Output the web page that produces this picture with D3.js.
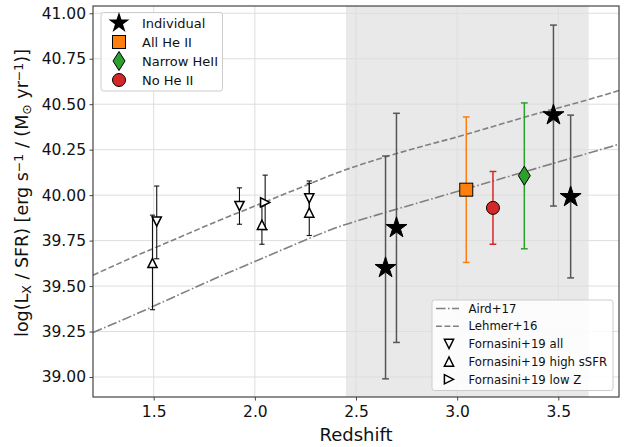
<!DOCTYPE html>
<html>
<head>
<meta charset="utf-8">
<script src="https://cdn.jsdelivr.net/npm/d3@7"></script>
<style>
  body { margin: 0; background: #fff; }
  svg { display: block; font-family: "DejaVu Sans", sans-serif; }
</style>
</head>
<body>
<svg id="chart" width="628" height="447"></svg>
<script>
// ---- data ----
const xTicks = [1.5, 2.0, 2.5, 3.0, 3.5];
const yTicks = [39.0, 39.25, 39.5, 39.75, 40.0, 40.25, 40.5, 40.75, 41.0];

// individual objects (stars)
const indivZ = [2.646, 2.70, 3.476, 3.561];
const indivY = [39.60, 39.82, 40.44, 39.99];
const indivLo = [38.99, 39.19, 39.94, 39.545];
const indivHi = [40.215, 40.45, 40.935, 40.44];

// stacks
const stackNames = ["All He II", "No He II", "Narrow HeII"];
const stackZ = [3.045, 3.177, 3.332];
const stackY = [40.03, 39.93, 40.107];
const stackLo = [39.63, 39.73, 39.705];
const stackHi = [40.43, 40.13, 40.507];

// Fornasini+19
const fAllZ = [1.515, 1.924, 2.269];
const fAllY = [39.855, 39.94, 39.983];
const fAllLo = [39.65, 39.84, 39.89];
const fAllHi = [40.05, 40.04, 40.078];

const fHighZ = [1.494, 2.035, 2.269];
const fHighY = [39.627, 39.837, 39.904];
const fHighLo = [39.37, 39.73, 39.778];
const fHighHi = [39.89, 39.94, 40.065];

const fLowZZ = [2.051];
const fLowZY = [39.96];
const fLowZLo = [39.81];
const fLowZHi = [40.11];

// scaling relations
const relZ = [1.2, 1.4, 1.6, 1.8, 2.0, 2.2, 2.4, 2.6, 2.8, 3.0, 3.2, 3.4, 3.6, 3.8];
const aird17 = [39.245, 39.34, 39.44, 39.54, 39.635, 39.73, 39.82, 39.89, 39.955, 40.02, 40.085, 40.15, 40.215, 40.28];
const lehmer16 = [39.56, 39.66, 39.755, 39.85, 39.94, 40.03, 40.12, 40.195, 40.26, 40.32, 40.385, 40.45, 40.51, 40.575];

// shaded redshift window
const shadeRange = [2.45, 3.65];

// ---- layout ----
const plotL = 93, plotR = 619, plotT = 6, plotB = 397;
const svg = d3.select("#chart");

const x = d3.scaleLinear().domain([1.2, 3.8]).range([plotL, plotR]);
const y = d3.scaleLinear().domain([38.89, 41.04]).range([plotB, plotT]);

const gridColor = "#dedede";
const lineGray = "#808080";

// shaded band
svg.append("rect")
  .attr("x", x(shadeRange[0])).attr("y", plotT)
  .attr("width", x(shadeRange[1]) - x(shadeRange[0]))
  .attr("height", plotB - plotT)
  .attr("fill", "#e9e9e9");

// grid
svg.append("g").selectAll("line").data(xTicks).join("line")
  .attr("x1", d => x(d)).attr("x2", d => x(d))
  .attr("y1", plotT).attr("y2", plotB)
  .attr("stroke", gridColor).attr("stroke-width", 1);
svg.append("g").selectAll("line").data(yTicks).join("line")
  .attr("x1", plotL).attr("x2", plotR)
  .attr("y1", d => y(d)).attr("y2", d => y(d))
  .attr("stroke", gridColor).attr("stroke-width", 1);

// relations
const line = d3.line().x(d => x(d[0])).y(d => y(d[1])).curve(d3.curveMonotoneX);
svg.append("path")
  .datum(relZ.map((z, i) => [z, aird17[i]]))
  .attr("d", line).attr("fill", "none")
  .attr("stroke", lineGray).attr("stroke-width", 1.6)
  .attr("stroke-dasharray", "9.6,2.4,1.6,2.4");
svg.append("path")
  .datum(relZ.map((z, i) => [z, lehmer16[i]]))
  .attr("d", line).attr("fill", "none")
  .attr("stroke", lineGray).attr("stroke-width", 1.6)
  .attr("stroke-dasharray", "5.9,2.6");

// marker paths
function starPath(r) {
  const pts = [];
  const ri = r * 0.382;
  for (let i = 0; i < 10; i++) {
    const a = -Math.PI / 2 + i * Math.PI / 5;
    const rr = i % 2 === 0 ? r : ri;
    pts.push([rr * Math.cos(a), rr * Math.sin(a)]);
  }
  return "M" + pts.map(p => p.join(",")).join("L") + "Z";
}
function triPath(s, dir) {
  // dir: "down", "up", "right"
  let pts;
  if (dir === "down") pts = [[0, s], [-s, -s], [s, -s]];
  else if (dir === "up") pts = [[0, -s], [-s, s], [s, s]];
  else pts = [[s, 0], [-s, -s], [-s, s]];
  return "M" + pts.map(p => p.join(",")).join("L") + "Z";
}
const diamondPath = (w, h) => `M0,${-h}L${w},0L0,${h}L${-w},0Z`;

// error bars
function errorbars(zs, lo, hi, color, width, cap) {
  const g = svg.append("g").attr("stroke", color).attr("stroke-width", width);
  zs.forEach((z, i) => {
    g.append("line").attr("x1", x(z)).attr("x2", x(z)).attr("y1", y(lo[i])).attr("y2", y(hi[i]));
    [lo[i], hi[i]].forEach(v => {
      g.append("line").attr("x1", x(z) - cap).attr("x2", x(z) + cap).attr("y1", y(v)).attr("y2", y(v));
    });
  });
}

errorbars(fAllZ, fAllLo, fAllHi, "#111", 1.1, 2.6);
errorbars(fHighZ, fHighLo, fHighHi, "#111", 1.1, 2.6);
errorbars(fLowZZ, fLowZLo, fLowZHi, "#111", 1.1, 2.6);
errorbars(indivZ, indivLo, indivHi, "#555", 1.5, 3.4);
errorbars([stackZ[0]], [stackLo[0]], [stackHi[0]], "#ff7f0e", 1.5, 3.4);
errorbars([stackZ[1]], [stackLo[1]], [stackHi[1]], "#d62728", 1.5, 3.4);
errorbars([stackZ[2]], [stackLo[2]], [stackHi[2]], "#2ca02c", 1.5, 3.4);

// markers
function tris(zs, ys, dir) {
  svg.append("g").selectAll("path").data(zs).join("path")
    .attr("transform", (d, i) => `translate(${x(d)},${y(ys[i])})`)
    .attr("d", triPath(4.6, dir))
    .attr("fill", "#fff").attr("stroke", "#000").attr("stroke-width", 1.5)
    .attr("stroke-linejoin", "miter");
}
tris(fAllZ, fAllY, "down");
tris(fHighZ, fHighY, "up");
tris(fLowZZ, fLowZY, "right");

svg.append("g").selectAll("path").data(indivZ).join("path")
  .attr("transform", (d, i) => `translate(${x(d)},${y(indivY[i])})`)
  .attr("d", starPath(11))
  .attr("fill", "#000").attr("stroke", "#000").attr("stroke-width", 1);

svg.append("rect")
  .attr("x", x(stackZ[0]) - 6.5).attr("y", y(stackY[0]) - 6.5)
  .attr("width", 13).attr("height", 13)
  .attr("fill", "#ff7f0e").attr("stroke", "#000").attr("stroke-width", 1);
svg.append("circle")
  .attr("cx", x(stackZ[1])).attr("cy", y(stackY[1])).attr("r", 6.5)
  .attr("fill", "#d62728").attr("stroke", "#000").attr("stroke-width", 1);
svg.append("path")
  .attr("transform", `translate(${x(stackZ[2])},${y(stackY[2])})`)
  .attr("d", diamondPath(6, 9.5))
  .attr("fill", "#2ca02c").attr("stroke", "#000").attr("stroke-width", 1);

// axes frame and ticks
svg.append("rect")
  .attr("x", plotL).attr("y", plotT).attr("width", plotR - plotL).attr("height", plotB - plotT)
  .attr("fill", "none").attr("stroke", "#444").attr("stroke-width", 1.2);

const xAxis = svg.append("g").attr("transform", `translate(0,${plotB})`)
  .call(d3.axisBottom(x).tickValues(xTicks).tickFormat(d3.format(".1f")).tickSize(3.5).tickPadding(5.5));
const yAxis = svg.append("g").attr("transform", `translate(${plotL},0)`)
  .call(d3.axisLeft(y).tickValues(yTicks).tickFormat(d3.format(".2f")).tickSize(3.5).tickPadding(3.5));
[xAxis, yAxis].forEach(a => {
  a.select(".domain").remove();
  a.selectAll(".tick line").attr("stroke", "#444");
  a.selectAll(".tick text").attr("fill", "#111").style("font-size", "15.5px")
    .style("font-family", "DejaVu Sans, sans-serif");
});

// axis labels
svg.append("text")
  .attr("x", (plotL + plotR) / 2).attr("y", 441)
  .attr("text-anchor", "middle").attr("fill", "#111")
  .style("font-size", "18px").text("Redshift");

const yl = svg.append("text")
  .attr("transform", `translate(28,193) rotate(-90)`)
  .attr("text-anchor", "middle").attr("fill", "#111")
  .style("font-size", "17.5px");
yl.append("tspan").text("log(L");
yl.append("tspan").attr("baseline-shift", "-25%").style("font-size", "12.5px").text("X");
yl.append("tspan").text(" / SFR) [erg s");
yl.append("tspan").attr("baseline-shift", "40%").style("font-size", "12.5px").text("\u22121");
yl.append("tspan").text(" / (M");
yl.append("tspan").attr("baseline-shift", "-25%").style("font-size", "12.5px").text("\u2299");
yl.append("tspan").text(" yr");
yl.append("tspan").attr("baseline-shift", "40%").style("font-size", "12.5px").text("\u22121");
yl.append("tspan").text(")]");

// legend 1 (markers)
const leg1 = svg.append("g");
leg1.append("rect").attr("x", 101).attr("y", 12.5).attr("width", 121.5).attr("height", 78.5)
  .attr("rx", 2.5).attr("fill", "#fff").attr("fill-opacity", 0.85)
  .attr("stroke", "#cccccc").attr("stroke-width", 1);
const leg1Rows = [
  { label: "Individual", draw: g => g.append("path").attr("d", starPath(11)).attr("fill", "#000") },
  { label: stackNames[0], draw: g => g.append("rect").attr("x", -6.5).attr("y", -6.5).attr("width", 13).attr("height", 13)
      .attr("fill", "#ff7f0e").attr("stroke", "#000") },
  { label: stackNames[2], draw: g => g.append("path").attr("d", diamondPath(6, 9.5))
      .attr("fill", "#2ca02c").attr("stroke", "#000") },
  { label: stackNames[1], draw: g => g.append("circle").attr("r", 6.5)
      .attr("fill", "#d62728").attr("stroke", "#000") }
];
leg1Rows.forEach((r, i) => {
  const cy = 23 + i * 19;
  const g = leg1.append("g").attr("transform", `translate(119,${cy})`);
  r.draw(g);
  leg1.append("text").attr("x", 142).attr("y", cy).attr("dy", "0.36em")
    .attr("fill", "#111").style("font-size", "13px").text(r.label);
});

// legend 2 (relations + Fornasini)
const leg2 = svg.append("g");
leg2.append("rect").attr("x", 432).attr("y", 300).attr("width", 181).attr("height", 90.5)
  .attr("rx", 2.5).attr("fill", "#fff").attr("fill-opacity", 0.85)
  .attr("stroke", "#cccccc").attr("stroke-width", 1);
const leg2Rows = [
  { label: "Aird+17", dash: "9.6,2.4,1.6,2.4" },
  { label: "Lehmer+16", dash: "5.9,2.6" },
  { label: "Fornasini+19 all", tri: "down" },
  { label: "Fornasini+19 high sSFR", tri: "up" },
  { label: "Fornasini+19 low Z", tri: "right" }
];
leg2Rows.forEach((r, i) => {
  const cy = 308.5 + i * 17.7;
  if (r.dash) {
    leg2.append("line").attr("x1", 436).attr("x2", 459).attr("y1", cy).attr("y2", cy)
      .attr("stroke", lineGray).attr("stroke-width", 1.6).attr("stroke-dasharray", r.dash);
  } else {
    leg2.append("path").attr("transform", `translate(449,${cy})`)
      .attr("d", triPath(4.6, r.tri)).attr("fill", "#fff")
      .attr("stroke", "#000").attr("stroke-width", 1.5);
  }
  leg2.append("text").attr("x", 468.5).attr("y", cy).attr("dy", "0.36em")
    .attr("fill", "#111").style("font-size", "11.7px").text(r.label);
});
</script>
</body>
</html>
